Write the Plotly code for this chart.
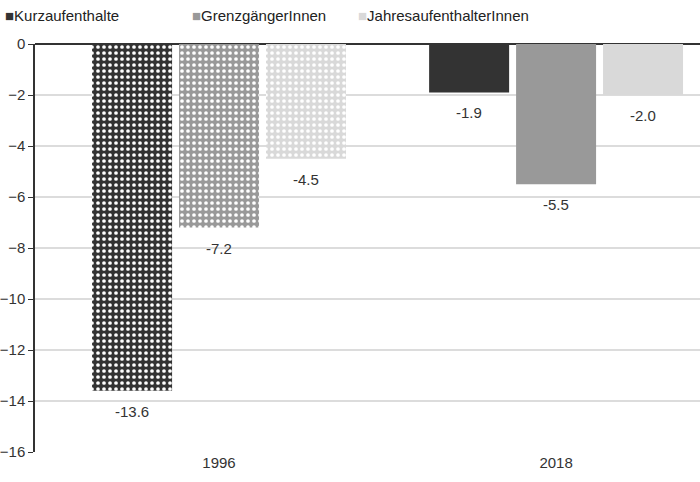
import plotly.graph_objects as go

# Data
years = ["1996", "2018"]
series = ["Kurzaufenthalte", "GrenzgängerInnen", "JahresaufenthalterInnen"]
kurz = [-13.6, -1.9]
grenz = [-7.2, -5.5]
jahres = [-4.5, -2.0]
values = [kurz, grenz, jahres]
colors = ["#333333", "#999999", "#d9d9d9"]

font = "Liberation Sans, Arial, sans-serif"
x_pos = list(range(len(years)))
bargap = 0.226
slot = (1 - bargap) / len(series)

fig = go.Figure()
for k, (name, vals, col) in enumerate(zip(series, values, colors)):
    fig.add_trace(go.Bar(
        x=x_pos, y=vals, name=name,
        marker=dict(color=col, line=dict(width=0),
                    pattern=dict(shape=[".", ""], fgcolor="white", bgcolor=col,
                                 size=6, solidity=0.3, fillmode="replace")),
    ))
    # value labels a bit below the bar ends
    for xi, v in zip(x_pos, vals):
        fig.add_annotation(
            x=xi + (k - 1) * slot, y=v, text=f"{v:.1f}", showarrow=False,
            yanchor="top", yshift=-10,
            font=dict(size=15, color="#333333", family=font),
        )

# legend drawn as a row of text entries along the top
legend_x = [3, 190, 356]
for name, col, lx in zip(series, colors, legend_x):
    fig.add_annotation(
        text=f"<span style='color:{col}'>■</span>{name}",
        xref="paper", yref="paper", x=(lx - 35) / 665, y=1 + 29 / 408,
        xanchor="left", yanchor="middle", showarrow=False,
        font=dict(size=15, color="#222222", family=font),
    )

fig.update_layout(
    width=700, height=482,
    margin=dict(l=35, r=0, t=44, b=30, autoexpand=False),
    paper_bgcolor="white", plot_bgcolor="white",
    barmode="group", bargap=bargap, bargroupgap=0.08,
    showlegend=False,
    font=dict(family=font, size=15, color="#333333"),
)
fig.update_xaxes(
    range=[-0.546, 1.427], tickvals=x_pos, ticktext=years,
    showgrid=False, zeroline=False, showline=False, ticks="",
    tickfont=dict(size=15, color="#333333"),
)
fig.update_yaxes(
    range=[-16, 0], dtick=2, tick0=0,
    showgrid=True, gridcolor="#dcdcdc", gridwidth=1.5,
    zeroline=True, zerolinecolor="#333333", zerolinewidth=2,
    showline=True, linecolor="#333333", linewidth=1.5,
    ticks="outside", ticklen=5, tickcolor="#333333",
    tickfont=dict(size=15, color="#333333"),
)

fig.write_html("out.html", config={"displayModeBar": False},
               post_script="document.body.style.margin='0';")
